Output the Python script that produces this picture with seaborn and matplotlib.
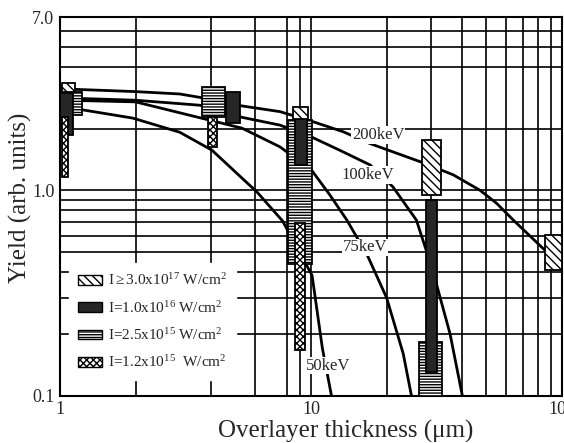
import numpy as np
import pandas as pd
import matplotlib
matplotlib.use("Agg")
import matplotlib.pyplot as plt
import seaborn as sns
from matplotlib.patches import Patch
from matplotlib.ticker import FixedLocator, NullFormatter, FixedFormatter

# ---------------- data ----------------
curve_names = ["50keV", "75keV", "100keV", "200keV"]

x_50 = [1.0, 1.047, 1.95, 3.0, 4.03, 6.1, 7.7, 10.1, 11.1, 12.1]
y_50 = [2.58, 2.55, 2.25, 1.92, 1.57, 0.98, 0.71, 0.385, 0.17, 0.098]

x_75 = [1.0, 1.047, 2.0, 5.31, 7.52, 10.05, 11.9, 13.9, 16.8, 20.0, 23.3, 25.2]
y_75 = [2.77, 2.75, 2.70, 2.01, 1.63, 1.256, 0.948, 0.716, 0.48, 0.30, 0.16, 0.098]

x_100 = [1.0, 1.047, 2.0, 3.61, 5.31, 7.52, 10.05, 13.0, 17.2, 21.2, 26.3, 30.5, 35.8, 40.2]
y_100 = [2.85, 2.82, 2.75, 2.60, 2.27, 2.08, 1.82, 1.57, 1.33, 1.04, 0.716, 0.41, 0.20, 0.098]

x_200 = [1.0, 1.047, 2.0, 3.0, 4.6, 5.3, 7.52, 10.2, 13.45, 17.2, 27.2, 36.9, 47.2, 55.0, 64.0, 86.9]
y_200 = [3.15, 3.12, 3.03, 2.95, 2.70, 2.58, 2.42, 2.16, 1.93, 1.69, 1.38, 1.19, 1.0, 0.863, 0.716, 0.501]

label_x = [11.7, 16.4, 16.9, 18.5]
label_y = [0.140, 0.528, 1.19, 1.86]

intensity_labels = [
    r"I$\geq$3.0x10$^{17}$ W/cm$^{2}$",
    r"I=1.0x10$^{16}$ W/cm$^{2}$",
    r"I=2.5x10$^{15}$ W/cm$^{2}$",
    r"I=1.2x10$^{15}$  W/cm$^{2}$",
]

# boxes: thickness range (x_lo, x_hi) and yield range (y_lo, y_hi)
b17_xlo = [1.016, 8.50, 27.6, 85.6]
b17_xhi = [1.147, 9.75, 32.9, 99.7]
b17_ylo = [3.00, 2.20, 0.946, 0.408]
b17_yhi = [3.32, 2.55, 1.76, 0.604]

b16_xlo = [1.0, 4.58, 8.64, 28.7]
b16_xhi = [1.13, 5.21, 9.61, 31.7]
b16_ylo = [1.86, 2.12, 1.33, 0.130]
b16_yhi = [2.98, 3.02, 2.23, 0.895]

b25_xlo = [1.113, 3.69, 8.12, 27.0]
b25_xhi = [1.227, 4.54, 10.06, 33.2]
b25_ylo = [2.33, 2.28, 0.44, 0.09]
b25_yhi = [3.02, 3.20, 2.20, 0.182]

b12_xlo = [1.016, 3.90, 8.64]
b12_xhi = [1.079, 4.21, 9.46]
b12_ylo = [1.16, 1.63, 0.166]
b12_yhi = [2.28, 2.28, 0.69]

x_major = [1, 10, 100]
x_major_labels = ["1", "10", "100"]
x_grid = [2, 4, 6, 8, 9, 20, 30, 40, 50, 60, 70, 80, 90]
y_major = [0.1, 1.0, 7.0]
y_major_labels = ["0.1", "1.0", "7.0"]
y_grid = [0.2, 0.3, 0.4, 0.5, 0.6, 0.7, 0.8, 0.9, 2, 4, 5, 6]

# ---------------- style ----------------
sns.set_style("white")
plt.rcParams["font.family"] = ["Liberation Serif", "DejaVu Serif"]
plt.rcParams["mathtext.fontset"] = "custom"
plt.rcParams["mathtext.rm"] = "Liberation Serif"
plt.rcParams["mathtext.it"] = "Liberation Serif:italic"
plt.rcParams["mathtext.bf"] = "Liberation Serif:bold"
plt.rcParams["hatch.linewidth"] = 1.0

fig = plt.figure(figsize=(5.64, 4.43), dpi=100)
ax = fig.add_axes([60 / 564, 1 - 395.5 / 443, 502 / 564, 378.5 / 443])
ax.set_xscale("log")
ax.set_yscale("log")

# curves
rows = []
for name, xs, ys in zip(curve_names, [x_50, x_75, x_100, x_200], [y_50, y_75, y_100, y_200]):
    for a, b in zip(xs, ys):
        rows.append({"x": a, "y": b, "energy": name})
df = pd.DataFrame(rows)
sns.lineplot(data=df, x="x", y="y", units="energy", estimator=None, sort=False,
             color="black", lw=2.0, ax=ax, zorder=3, legend=False)

styles = [
    dict(facecolor="white", hatch="\\\\\\\\", edgecolor="black"),
    dict(facecolor="#262626", hatch=None, edgecolor="black"),
    dict(facecolor="white", hatch="------", edgecolor="black"),
    dict(facecolor="white", hatch="xxxxx", edgecolor="black"),
]
box_sets = [
    (b17_xlo, b17_xhi, b17_ylo, b17_yhi),
    (b25_xlo, b25_xhi, b25_ylo, b25_yhi),
    (b16_xlo, b16_xhi, b16_ylo, b16_yhi),
    (b12_xlo, b12_xhi, b12_ylo, b12_yhi),
]
style_order = [0, 2, 1, 3]
for z, (bs, si) in enumerate(zip(box_sets, style_order)):
    xlo, xhi, ylo, yhi = map(np.array, bs)
    st = styles[si]
    ax.bar(xlo, yhi - ylo, width=xhi - xlo, bottom=ylo, align="edge",
           facecolor=st["facecolor"], hatch=st["hatch"], edgecolor=st["edgecolor"],
           linewidth=1.3, zorder=4 + z)

for name, lx, ly in zip(curve_names, label_x, label_y):
    ax.text(lx, ly, name, ha="center", va="center", fontsize=12, zorder=10,
            bbox=dict(facecolor="white", edgecolor="none", pad=0.5))

ax.set_xlim(1, 100)
ax.set_ylim(0.1, 7.0)
ax.xaxis.set_major_locator(FixedLocator(x_major))
ax.xaxis.set_major_formatter(FixedFormatter(x_major_labels))
ax.xaxis.set_minor_locator(FixedLocator(x_grid))
ax.xaxis.set_minor_formatter(NullFormatter())
ax.yaxis.set_major_locator(FixedLocator(y_major))
ax.yaxis.set_major_formatter(FixedFormatter(y_major_labels))
ax.yaxis.set_minor_locator(FixedLocator(y_grid))
ax.yaxis.set_minor_formatter(NullFormatter())
ax.tick_params(which="both", length=0, labelsize=13)
ax.tick_params(axis="x", pad=4)
ax.tick_params(axis="y", pad=4)
ax.grid(which="both", color="black", lw=1.2, zorder=0)
ax.set_axisbelow(True)
for s in ax.spines.values():
    s.set_linewidth(1.5)
    s.set_color("black")

ax.set_xlabel("Overlayer thickness (\u03bcm)", fontsize=18)
ax.xaxis.label.set_va("center")
ax.xaxis.set_label_coords(0.569, -0.094)
ax.set_ylabel("Yield (arb. units)", fontsize=18)
ax.yaxis.label.set_va("center")
ax.yaxis.set_label_coords(-0.078, 0.523)

handles = [Patch(facecolor=styles[i]["facecolor"], hatch=styles[i]["hatch"],
                 edgecolor="black", linewidth=1.0) for i in range(4)]
leg = ax.legend(handles, intensity_labels, loc="lower left",
                bbox_to_anchor=(0.002, 0.022), fontsize=11, frameon=True,
                fancybox=False, framealpha=1, edgecolor="white", facecolor="white",
                handlelength=1.6, handleheight=0.6, labelspacing=0.75,
                borderpad=0.6, handletextpad=0.4)
leg.set_zorder(20)

fig.savefig("out.png", dpi=100)
